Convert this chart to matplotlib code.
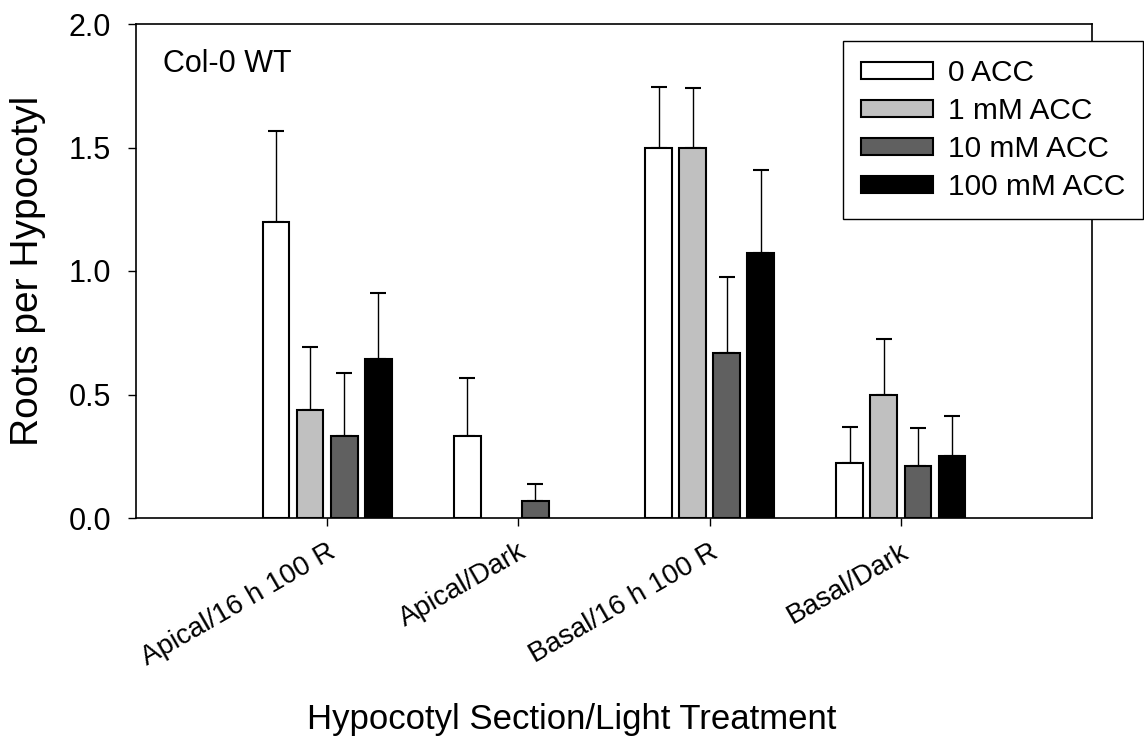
import numpy as np
import matplotlib
matplotlib.use("Agg")
import matplotlib.pyplot as plt

plt.rcParams['font.family'] = ['Liberation Sans', 'DejaVu Sans']

# groups along the x axis
sections = ["Apical/16 h 100 R", "Apical/Dark", "Basal/16 h 100 R", "Basal/Dark"]

# mean roots per hypocotyl for each ACC level (nan = no bar)
acc_0 = [1.20, 0.333, 1.50, 0.222]
acc_1 = [0.437, np.nan, 1.50, 0.50]
acc_10 = [0.333, 0.067, 0.667, 0.211]
acc_100 = [0.643, np.nan, 1.071, 0.25]

# upper error (SE)
err_0 = [0.367, 0.235, 0.245, 0.146]
err_1 = [0.257, np.nan, 0.24, 0.223]
err_10 = [0.255, 0.072, 0.31, 0.155]
err_100 = [0.268, np.nan, 0.338, 0.162]

series = [
    ("0 ACC", acc_0, err_0, "white"),
    ("1 mM ACC", acc_1, err_1, "#c0c0c0"),
    ("10 mM ACC", acc_10, err_10, "#606060"),
    ("100 mM ACC", acc_100, err_100, "black"),
]

fig = plt.figure(figsize=(11.44, 7.42), dpi=100)
ax = fig.add_axes([136 / 1144, 1 - 518 / 742, (1092 - 136) / 1144, (518 - 24) / 742])

x = np.arange(1, len(sections) + 1)
pitch = 0.178
width = 0.139

handles = []
for i, (name, vals, errs, col) in enumerate(series):
    pos = x + (i - 1.5) * pitch
    vals = np.array(vals, dtype=float)
    errs = np.array(errs, dtype=float)
    b = ax.bar(pos, vals, width=width, color=col, edgecolor="black",
               linewidth=1.5, label=name, zorder=2)
    handles.append(b)
    ax.errorbar(pos, vals, yerr=[np.zeros_like(errs), errs], fmt="none",
                ecolor="black", elinewidth=1.0, capsize=5.5, capthick=1.5,
                zorder=1)

ax.set_xlim(0, 5)
ax.set_ylim(0, 2.0)
ax.set_yticks([0.0, 0.5, 1.0, 1.5, 2.0])
ax.set_yticklabels(["0.0", "0.5", "1.0", "1.5", "2.0"])
ax.set_xticks(x)
ax.set_xticklabels(sections, rotation=30, ha="right", rotation_mode="anchor")
ax.tick_params(axis="both", direction="out", length=6, width=1, labelsize=22,
               colors="black")
ax.tick_params(axis="x", pad=9, labelsize=20)
ax.tick_params(axis="y", pad=12)
for s in ax.spines.values():
    s.set_linewidth(1.2)

ax.set_ylabel("Roots per Hypocotyl", fontsize=28, labelpad=16)
fig.text(0.5, 0.03, "Hypocotyl Section/Light Treatment", fontsize=25,
         ha="center", va="center")

ax.text(0.028, 0.95, "Col-0 WT", transform=ax.transAxes, fontsize=22,
        ha="left", va="top")

fig.legend(handles=handles, loc="upper right",
           bbox_to_anchor=(1143 / 1144, 1 - 41 / 742), fontsize=21.5,
           frameon=True, fancybox=False, edgecolor="black", framealpha=1,
           handlelength=2.4, handleheight=0.5, labelspacing=0.34,
           borderpad=0.6, handletextpad=0.5, borderaxespad=0)

fig.savefig("out.png", dpi=100)
